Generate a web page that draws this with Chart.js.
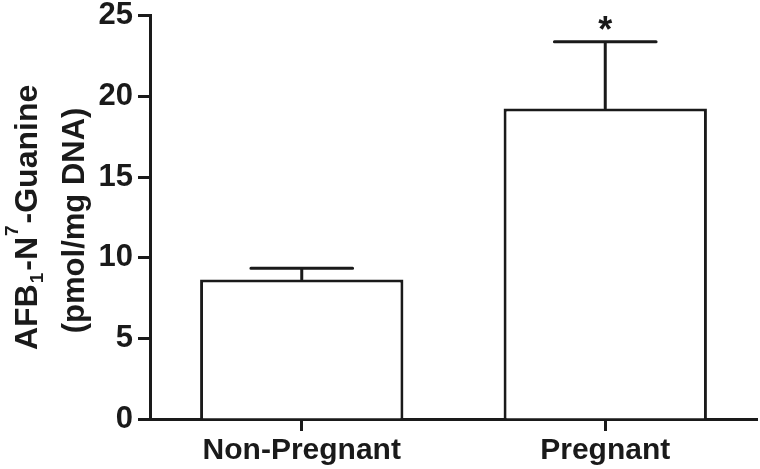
<!DOCTYPE html>
<html>
<head>
<meta charset="utf-8">
<script src="https://cdn.jsdelivr.net/npm/chart.js@4"></script>
<style>
  html, body { margin: 0; padding: 0; background: #fff; }
  #wrap { width: 760px; height: 469px; }
</style>
</head>
<body>
<div id="wrap"><canvas id="chart" width="760" height="469"></canvas></div>
<script>
// data
const categories = ['Non-Pregnant', 'Pregnant'];
const means = [8.65, 19.25];
const errUp = [0.7, 4.15];
const signif = ['', '*'];
const yTicks = [0, 5, 10, 15, 20, 25];

const ink = '#1a1a1a';
const fam = '"Liberation Sans", Arial, sans-serif';

// error bars (upper half only) + asterisk
const errorBars = {
  id: 'errorBars',
  afterDatasetsDraw(chart) {
    const ctx = chart.ctx;
    const meta = chart.getDatasetMeta(0);
    const y = chart.scales.y;
    ctx.save();
    ctx.strokeStyle = ink;
    ctx.lineWidth = 3;
    ctx.lineCap = 'round';
    meta.data.forEach((bar, i) => {
      const x = bar.x;
      const yTop = y.getPixelForValue(means[i] + errUp[i]);
      const yBar = y.getPixelForValue(means[i]);
      const half = bar.width / 4;
      ctx.beginPath();
      ctx.moveTo(x, yBar);
      ctx.lineTo(x, yTop);
      ctx.moveTo(x - half, yTop);
      ctx.lineTo(x + half, yTop);
      ctx.stroke();
      if (signif[i]) {
        ctx.fillStyle = ink;
        ctx.font = 'bold 36px ' + fam;
        ctx.textAlign = 'center';
        ctx.textBaseline = 'alphabetic';
        ctx.fillText(signif[i], x, yTop);
      }
    });
    ctx.restore();
  }
};

// rotated y title with sub/superscript
const yTitle = {
  id: 'yTitle',
  afterDraw(chart) {
    const ctx = chart.ctx;
    const area = chart.chartArea;
    const cy = (area.top + area.bottom) / 2;
    const big = 'bold 32px ' + fam;
    const small = 'bold 19px ' + fam;
    const line1 = [
      { t: 'AFB', f: big, dy: 0, gap: 1 },
      { t: '1', f: small, dy: 6, gap: 2 },
      { t: '-N', f: big, dy: 0, gap: 1 },
      { t: '7', f: small, dy: -19, gap: 2 },
      { t: '-Guanine', f: big, dy: 0, gap: 0 }
    ];
    ctx.save();
    ctx.fillStyle = ink;
    ctx.textBaseline = 'alphabetic';
    ctx.textAlign = 'left';
    // line 1
    ctx.save();
    ctx.translate(37, cy);
    ctx.rotate(-Math.PI / 2);
    let w = 0;
    line1.forEach(s => { ctx.font = s.f; w += ctx.measureText(s.t).width + s.gap; });
    let x = -w / 2;
    line1.forEach(s => {
      ctx.font = s.f;
      ctx.fillText(s.t, x, s.dy);
      x += ctx.measureText(s.t).width + s.gap;
    });
    ctx.restore();
    // line 2
    ctx.save();
    ctx.translate(84, cy + 3);
    ctx.rotate(-Math.PI / 2);
    ctx.font = 'bold 31px ' + fam;
    ctx.textAlign = 'center';
    ctx.fillText('(pmol/mg DNA)', 0, 0);
    ctx.restore();
    ctx.restore();
  }
};

new Chart(document.getElementById('chart'), {
  type: 'bar',
  data: {
    labels: categories,
    datasets: [{
      data: means,
      backgroundColor: '#ffffff',
      borderColor: ink,
      borderWidth: 3,
      categoryPercentage: 0.67,
      barPercentage: 1
    }]
  },
  options: {
    responsive: false,
    animation: false,
    layout: { padding: { top: 13, right: 3, left: 0, bottom: 0 } },
    plugins: {
      legend: { display: false },
      tooltip: { enabled: false }
    },
    scales: {
      x: {
        grid: {
          offset: false,
          drawOnChartArea: false,
          tickLength: 12,
          tickWidth: 3,
          tickColor: ink
        },
        border: { color: ink, width: 3 },
        ticks: {
          color: ink,
          padding: 2,
          font: { family: fam, size: 30, weight: 'bold' }
        },
        afterFit(scale) { scale.height = 50; }
      },
      y: {
        min: 0,
        max: 25,
        afterBuildTicks(scale) { scale.ticks = yTicks.map(v => ({ value: v })); },
        grid: {
          drawOnChartArea: false,
          tickLength: 12,
          tickWidth: 3,
          tickColor: ink
        },
        border: { color: ink, width: 3 },
        ticks: {
          color: ink,
          padding: 5,
          font: { family: fam, size: 31, weight: 'bold', lineHeight: 0.7 }
        },
        afterFit(scale) { scale.width = 150; }
      }
    }
  },
  plugins: [errorBars, yTitle]
});
</script>
</body>
</html>
